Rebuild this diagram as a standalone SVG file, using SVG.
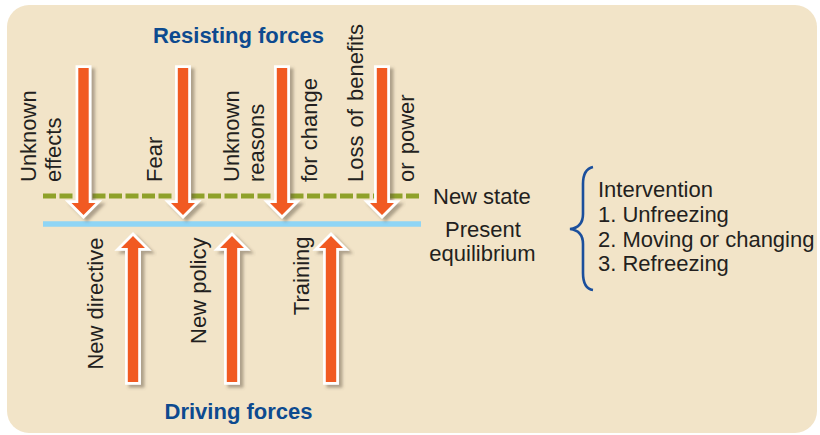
<svg xmlns="http://www.w3.org/2000/svg" width="820" height="435" viewBox="0 0 820 435">
  <style>
    .lbl { font-family: "Liberation Sans", Arial, Helvetica, sans-serif; font-size: 22px; fill: #231f20; }
    .title { font-family: "Liberation Sans", Arial, Helvetica, sans-serif; font-size: 22px; font-weight: bold; fill: #0d4a8f; }
    .arrow { fill: #f15a24; stroke: #ffffff; stroke-width: 5.5; stroke-linejoin: miter; paint-order: stroke; filter: url(#shadow); }
  </style>
  <defs>
    <filter id="shadow" x="-50%" y="-10%" width="200%" height="120%">
      <feDropShadow dx="3.5" dy="3" stdDeviation="1.6" flood-color="#5a5040" flood-opacity="0.45"/>
    </filter>
  </defs>

  <rect x="0" y="0" width="820" height="435" fill="#ffffff"/>
  <rect id="panel" x="7" y="5" width="810" height="428" rx="22" ry="22" fill="#f2e4c8"/>

  <g id="title-resisting"><text class="title" x="238.5" y="43" text-anchor="middle">Resisting forces</text></g>
  <g id="title-driving"><text class="title" x="238.5" y="419" text-anchor="middle">Driving forces</text></g>

  <g id="lines">
    <line id="new-state-line" x1="43" y1="196" x2="421" y2="196" stroke="#8fa12a" stroke-width="5" stroke-dasharray="13 3.5"/>
    <line id="present-line" x1="43" y1="224" x2="421" y2="224" stroke="#8fd5f5" stroke-width="5.5"/>
  </g>

  <g id="connectors">
    <path class="arrow" d="M78.3,68 H88.7 V203 H95.5 L83.5,215 L71.5,203 H78.3 Z"/>
    <path class="arrow" d="M177.8,68 H188.2 V203 H195 L183,215 L171,203 H177.8 Z"/>
    <path class="arrow" d="M276.8,68 H287.2 V203 H294 L282,215 L270,203 H276.8 Z"/>
    <path class="arrow" d="M376.8,68 H387.2 V203 H394 L382,215 L370,203 H376.8 Z"/>
    <path class="arrow" d="M127.8,382 H138.2 V248 H145 L133,236 L121,248 H127.8 Z"/>
    <path class="arrow" d="M226.8,382 H237.2 V248 H244 L232,236 L220,248 H226.8 Z"/>
    <path class="arrow" d="M325.8,382 H336.2 V248 H343 L331,236 L319,248 H325.8 Z"/>
  </g>

  <g id="force-unknown-effects">
    <text class="lbl" transform="translate(36,182) rotate(-90)">Unknown</text>
    <text class="lbl" transform="translate(61,182) rotate(-90)">effects</text>
  </g>
  <g id="force-fear">
    <text class="lbl" transform="translate(161.5,182) rotate(-90)">Fear</text>
  </g>
  <g id="force-unknown-reasons">
    <text class="lbl" transform="translate(239.3,182) rotate(-90)">Unknown</text>
    <text class="lbl" transform="translate(263.5,182) rotate(-90)">reasons</text>
    <text class="lbl" transform="translate(316.5,182) rotate(-90)">for change</text>
  </g>
  <g id="force-loss-of-benefits">
    <text class="lbl" transform="translate(363.3,182) rotate(-90)" word-spacing="2">Loss of benefits</text>
    <text class="lbl" transform="translate(413.5,182) rotate(-90)" word-spacing="2">or power</text>
  </g>

  <g id="force-new-directive">
    <text class="lbl" text-anchor="end" transform="translate(102.7,237.5) rotate(-90)">New directive</text>
  </g>
  <g id="force-new-policy">
    <text class="lbl" text-anchor="end" transform="translate(206,237.5) rotate(-90)">New policy</text>
  </g>
  <g id="force-training">
    <text class="lbl" text-anchor="end" transform="translate(309.3,236.5) rotate(-90)">Training</text>
  </g>

  <g id="legend-new-state"><text class="lbl" x="433" y="204">New state</text></g>
  <g id="legend-present">
    <text class="lbl" x="483" y="237" text-anchor="middle">Present</text>
    <text class="lbl" x="482.5" y="261" text-anchor="middle">equilibrium</text>
  </g>

  <g id="brace">
    <path d="M593,167 C586,168.5 583,174 583,184 L583,214 C583,223 578.5,228 570,229 C578.5,230 583,235 583,244 L583,273 C583,283 586,289 593,290" fill="none" stroke="#1b4f9c" stroke-width="2.6"/>
  </g>

  <g id="intervention">
    <text class="lbl" x="598" y="197">Intervention</text>
    <text class="lbl" x="598" y="222">1. Unfreezing</text>
    <text class="lbl" x="598" y="247">2. Moving or changing</text>
    <text class="lbl" x="598" y="271">3. Refreezing</text>
  </g>
</svg>
